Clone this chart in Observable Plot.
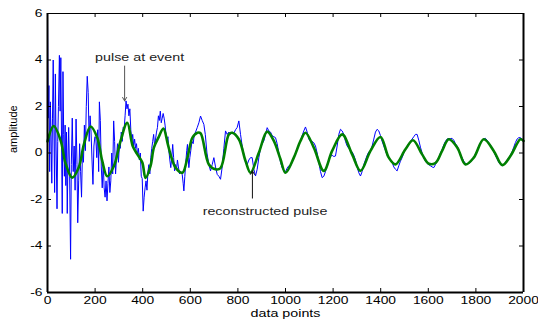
<!DOCTYPE html>
<html>
<head>
<meta charset="utf-8">
<script src="https://cdn.jsdelivr.net/npm/d3@7"></script>
<script src="https://cdn.jsdelivr.net/npm/@observablehq/plot@0.6"></script>
<style>
  html, body { margin: 0; padding: 0; background: #fff; }
  #chart { width: 538px; height: 320px; }
</style>
</head>
<body>
<div id="chart"></div>
<script>
// ---- data ----
const xTicks = [0, 200, 400, 600, 800, 1000, 1200, 1400, 1600, 1800, 2000];
const yTicks = [-6, -4, -2, 0, 2, 4, 6];
const xDomain = [0, 2000];
const yDomain = [-6, 6];
const xLabel = "data points";
const yLabel = "amplitude";

// measured noisy signal: [data point, amplitude]
const measured = [
  [0,6.0],[3,1.5],[6,2.9],[9,-0.8],[12,2.2],[15,0.6],[18,-1.3],[21,1.5],[24,4.0],[27,1.0],
  [30,-1.7],[33,3.4],[36,0.3],[40,-2.4],[43,0.5],[46,2.0],[50,4.2],[53,1.8],[56,4.1],[59,0.5],
  [62,-2.6],[65,3.5],[68,0.8],[71,-1.0],[74,1.2],[77,-1.4],[80,0.9],[83,-2.6],[86,-0.3],[89,1.1],
  [93,-1.0],[97,-4.57],[100,-0.5],[104,1.5],[108,-0.8],[112,0.3],[116,-1.6],[120,1.46],[124,-0.5],[127,-3.0],
  [131,-1.2],[135,0.4],[139,-0.8],[143,-1.9],[147,0.2],[151,-0.4],[155,1.2],[159,0.1],[163,2.0],[167,3.3],
  [171,2.6],[175,0.5],[179,1.6],[183,0.9],[187,-0.3],[191,-1.35],[195,0.3],[199,0.7],[203,0.66],[207,-0.2],
  [211,1.0],[215,-0.8],[218,2.2],[222,1.4],[226,-0.6],[230,-1.5],[234,-0.4],[238,-1.5],[242,-1.9],[246,-1.2],
  [250,-2.06],[254,-1.3],[258,-0.6],[262,-1.7],[266,-1.2],[270,0.0],[274,-0.9],[278,1.38],[282,0.5],[286,-0.9],
  [290,-0.2],[294,0.4],[298,-0.4],[302,0.3],[306,0.2],[310,0.9],[314,0.5],[318,1.1],[322,1.0],[326,1.6],
  [330,2.24],[334,1.9],[338,2.1],[342,1.6],[346,1.9],[350,1.0],[354,0.5],[358,0.8],[362,0.3],[366,0.6],
  [370,0.2],[374,0.4],[378,-0.1],[382,0.2],[386,-0.3],[390,0.0],[394,-1.0],[398,-1.1],[402,-2.5],[406,-1.9],
  [410,-1.5],[414,-1.2],[418,-1.6],[422,-0.8],[426,-0.5],[430,-0.9],[434,-0.2],[438,0.2],[442,0.5],[446,0.8],
  [450,0.3],[454,0.6],[458,0.9],[462,1.1],[466,1.6],[470,1.4],[474,1.8],[478,1.3],[482,1.5],[486,1.7],
  [490,1.5],[494,1.2],[498,0.8],[502,0.5],[506,0.7],[510,0.1],[514,-0.3],[518,-0.63],[522,-0.2],[526,0.37],
  [530,-0.2],[534,-0.77],[538,-0.5],[542,-0.7],[546,-0.3],[550,-0.6],[555,-0.9],[560,-0.8],[566,-0.92],[570,-1.3],
  [573,-1.63],[577,-1.0],[581,-0.4],[585,0.1],[588,0.37],[591,-0.2],[594,-0.63],[598,-0.2],[602,0.1],[607,0.5],
  [612,0.4],[617,0.8],[622,0.9],[629,1.09],[636,1.3],[643,1.59],[650,1.4],[657,1.23],[663,0.8],[670,0.0],
  [678,-0.5],[685,-0.77],[692,-0.5],[699,-0.2],[706,-0.6],[713,-0.92],[720,-1.0],[727,-1.13],[734,-0.6],[741,0.2],
  [748,0.95],[755,0.8],[762,0.9],[769,0.8],[776,0.9],[783,0.85],[790,1.0],[797,1.1],[804,1.38],[811,0.8],
  [818,0.3],[825,-0.06],[832,-0.4],[839,-0.5],[846,-0.3],[853,-0.2],[860,-0.2],[867,-0.7],[874,-0.99],[881,-0.7],
  [888,-0.2],[895,0.2],[902,0.4],[909,0.52],[916,0.8],[923,1.09],[930,0.95],[937,0.9],[944,0.75],[951,0.7],
  [958,0.66],[965,0.4],[972,0.0],[979,-0.4],[986,-0.63],[993,-0.75],[1000,-0.8],[1007,-0.65],[1014,-0.55],[1021,-0.56],
  [1028,-0.4],[1035,-0.2],[1042,0.0],[1049,0.2],[1056,0.35],[1063,0.52],[1070,0.75],[1077,0.95],[1084,1.12],[1091,0.9],
  [1098,0.6],[1105,0.5],[1112,0.5],[1119,0.44],[1126,0.3],[1133,0.0],[1140,-0.4],[1147,-0.8],[1154,-1.06],[1161,-1.0],
  [1168,-0.8],[1175,-0.5],[1182,-0.3],[1189,-0.15],[1196,-0.1],[1203,-0.15],[1210,-0.13],[1217,0.3],[1224,0.8],[1231,1.02],
  [1238,0.95],[1245,0.8],[1252,0.5],[1259,0.3],[1266,0.2],[1273,0.1],[1280,0.05],[1287,-0.1],[1294,-0.3],[1301,-0.6],
  [1308,-0.85],[1315,-0.99],[1322,-0.8],[1329,-0.5],[1336,-0.3],[1343,-0.1],[1350,0.05],[1357,0.1],[1364,0.3],[1371,0.6],
  [1378,0.9],[1385,1.02],[1392,0.95],[1399,0.75],[1406,0.5],[1413,0.3],[1420,0.1],[1427,-0.1],[1434,-0.2],[1441,-0.3],
  [1448,-0.4],[1455,-0.6],[1462,-0.7],[1469,-0.77],[1476,-0.55],[1483,-0.35],[1490,-0.2],[1497,0.0],[1504,0.15],[1511,0.3],
  [1518,0.4],[1525,0.5],[1532,0.6],[1539,0.7],[1546,0.8],[1553,0.8],[1560,0.55],[1567,0.25],[1574,0.0],[1581,-0.2],
  [1588,-0.35],[1595,-0.45],[1602,-0.5],[1609,-0.55],[1616,-0.6],[1623,-0.63],[1630,-0.5],[1637,-0.35],[1644,-0.2],[1651,0.0],
  [1658,0.15],[1665,0.35],[1672,0.5],[1679,0.6],[1686,0.62],[1693,0.62],[1700,0.63],[1707,0.55],[1714,0.4],[1721,0.3],
  [1728,0.15],[1735,-0.05],[1742,-0.2],[1749,-0.35],[1756,-0.45],[1763,-0.48],[1770,-0.45],[1777,-0.4],[1784,-0.3],[1791,-0.2],
  [1798,-0.05],[1805,0.1],[1812,0.3],[1819,0.45],[1826,0.55],[1833,0.6],[1840,0.63],[1847,0.55],[1854,0.45],[1861,0.35],
  [1868,0.2],[1875,0.05],[1882,-0.1],[1889,-0.25],[1896,-0.4],[1903,-0.5],[1910,-0.55],[1917,-0.5],[1924,-0.4],[1931,-0.3],
  [1938,-0.2],[1945,-0.1],[1952,0.05],[1959,0.25],[1966,0.45],[1973,0.6],[1980,0.66],[1987,0.66],[1994,0.6],[2000,0.5]
];

// reconstructed pulse: [data point, amplitude]
const reconstructed = [
  [0,0.5],[26,1.16],[55,0.55],[76,-0.45],[104,-1.06],[132,-0.6],[153,0.37],[181,1.14],[209,0.66],[230,-0.34],
  [251,-1.0],[279,-0.56],[307,0.52],[335,1.3],[358,0.3],[377,-0.05],[398,-0.4],[412,-1.07],[433,-0.55],[447,0.23],
  [466,0.66],[487,1.05],[505,0.4],[518,-0.1],[538,-0.63],[567,-0.85],[588,-0.2],[609,0.66],[630,0.87],[643,0.85],
  [678,-0.49],[706,-0.7],[727,-0.65],[762,0.8],[776,0.87],[804,0.59],[832,-0.34],[853,-0.85],[888,0.01],[923,0.92],
  [951,0.52],[979,-0.27],[1000,-0.85],[1035,-0.2],[1063,0.52],[1084,0.87],[1119,0.23],[1161,-0.77],[1196,0.09],[1238,0.8],
  [1280,-0.06],[1315,-0.77],[1357,0.09],[1399,0.69],[1434,-0.2],[1462,-0.49],[1504,0.16],[1536,0.55],[1574,-0.06],[1602,-0.46],
  [1630,-0.43],[1658,0.09],[1686,0.59],[1722,0.23],[1756,-0.49],[1791,-0.2],[1833,0.59],[1875,0.09],[1911,-0.52],[1945,-0.13],
  [1987,0.59],[2000,0.52]
];

// annotations
const noteText = ["pulse at event", "reconstructed pulse"];
const noteX = [387, 914];
const noteY = [4.09, -2.52];
const arrowX = [324, 861];
const arrowFrom = [3.74, -1.94];
const arrowTo = [2.24, -0.77];
const arrowColor = ["#555555", "#111111"];

const notes = noteText.map((t, i) => ({t, x: noteX[i], y: noteY[i]}));
const arrows = arrowX.map((x, i) => ({x, y1: arrowFrom[i], y2: arrowTo[i], c: arrowColor[i]}));

const chart = Plot.plot({
  width: 538,
  height: 320,
  marginLeft: 47,
  marginRight: 15,
  marginTop: 13,
  marginBottom: 28,
  style: {fontFamily: "'Liberation Sans', Arial, Helvetica, sans-serif", fontSize: "10px", background: "#fff", color: "#000", overflow: "visible"},
  x: {domain: xDomain},
  y: {domain: yDomain},
  marks: [
    Plot.line(measured, {x: d => d[0], y: d => d[1], stroke: "#0000ff", strokeWidth: 1, curve: "linear"}),
    Plot.line(reconstructed, {x: d => d[0], y: d => d[1], stroke: "#008000", strokeWidth: 2.6, curve: "catmull-rom"}),
    Plot.arrow(arrows, {x1: "x", x2: "x", y1: "y1", y2: "y2", stroke: "c", strokeWidth: 1, headLength: 6}),
    Plot.text(notes, {x: "x", y: "y", text: "t", fontSize: 11, fill: "#222", textAnchor: "middle"}),
    Plot.axisX(xTicks, {anchor: "bottom", tickSize: 0, tickPadding: 4, tickFormat: d => String(d), label: null, fontSize: 10}),
    Plot.axisY(yTicks, {anchor: "left", tickSize: 0, tickPadding: 5, tickFormat: d => String(d), label: null, fontSize: 10}),
    Plot.text([xLabel], {frameAnchor: "bottom", dy: 21, text: d => d, fontSize: 11, fill: "#000", lineAnchor: "middle"}),
    Plot.text([yLabel], {frameAnchor: "left", dx: -34, rotate: -90, text: d => d, fontSize: 11, fill: "#000", lineAnchor: "middle"}),
    // inward tick marks on all four sides
    Plot.ruleX(xTicks, {x: d => d, y1: yDomain[0], y2: yDomain[0], insetTop: -4, stroke: "#000"}),
    Plot.ruleX(xTicks, {x: d => d, y1: yDomain[1], y2: yDomain[1], insetBottom: -4, stroke: "#000"}),
    Plot.ruleY(yTicks, {y: d => d, x1: xDomain[0], x2: xDomain[0], insetRight: -4, stroke: "#000"}),
    Plot.ruleY(yTicks, {y: d => d, x1: xDomain[1], x2: xDomain[1], insetLeft: -4, stroke: "#000"}),
    Plot.ruleX([xDomain[0]], {stroke: "#000", strokeWidth: 2}),
    Plot.ruleX([xDomain[1]], {stroke: "#000", strokeWidth: 2}),
    Plot.ruleY([yDomain[0]], {stroke: "#000", strokeWidth: 2}),
    Plot.ruleY([yDomain[1]], {stroke: "#000", strokeWidth: 1})
  ]
});
document.getElementById("chart").appendChild(chart);

// horizontal widening of the unrotated text, to match the wide glyphs of the reference
chart.querySelectorAll("text").forEach(t => {
  const tr = t.getAttribute("transform") || "";
  if (tr.includes("rotate")) return;
  let x = parseFloat(t.getAttribute("x"));
  if (!isFinite(x)) x = 0;
  const s = t.textContent.length > 5 ? 1.3 : 1.38;
  t.setAttribute("transform", `${tr} translate(${x},0) scale(${s},1) translate(${-x},0)`);
});
</script>
</body>
</html>
